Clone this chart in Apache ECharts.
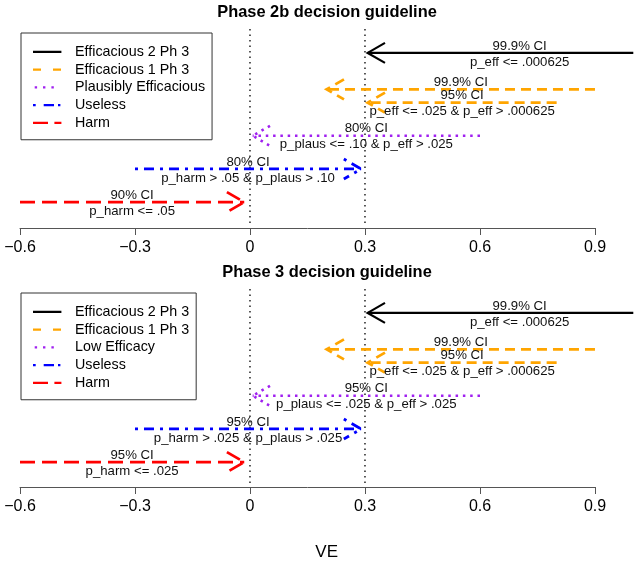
<!DOCTYPE html>
<html>
<head>
<meta charset="utf-8">
<script src="https://cdn.jsdelivr.net/npm/echarts@6/dist/echarts.min.js"></script>
<style>html,body{margin:0;padding:0;background:#fff}#chart{width:640px;height:564px}</style>
</head>
<body>
<div id="chart"></div>
<script>
// ---------------- data ----------------
const panelTitles = ['Phase 2b decision guideline', 'Phase 3 decision guideline'];
const legendNames2b = ['Efficacious 2 Ph 3', 'Efficacious 1 Ph 3', 'Plausibly Efficacious', 'Useless', 'Harm'];
const legendNames3 = ['Efficacious 2 Ph 3', 'Efficacious 1 Ph 3', 'Low Efficacy', 'Useless', 'Harm'];
const xTicks = [-0.6, -0.3, 0, 0.3, 0.6, 0.9];
const xTickLabels = ['\u22120.6', '\u22120.3', '0', '0.3', '0.6', '0.9'];
const xTickStep = 0.3;
const xDataMax = 1.0;
const rowRange = [0.28, 6.22];
const refLines = [0, 0.3];
const xAxisName = 'VE';
// arrows (same geometry in both panels): tail -> head
const arrowCategory = [0, 1, 1, 2, 3, 4];
const arrowFrom = [1.1, 0.9, 0.8, 0.6, -0.3, -0.6];
const arrowTo = [0.307, 0.2, 0.307, 0.007, 0.29, -0.015];
const arrowRow = [5.5, 4.4, 4, 3, 2, 1];
const ciLabels2b = ['99.9% CI', '99.9% CI', '95% CI', '80% CI', '80% CI', '90% CI'];
const ruleLabels2b = ['p_eff <= .000625', '', 'p_eff <= .025 & p_eff > .000625', 'p_plaus <= .10 & p_eff > .025', 'p_harm > .05 & p_plaus > .10', 'p_harm <= .05'];
const ciLabels3 = ['99.9% CI', '99.9% CI', '95% CI', '95% CI', '95% CI', '95% CI'];
const ruleLabels3 = ['p_eff <= .000625', '', 'p_eff <= .025 & p_eff > .000625', 'p_plaus <= .025 & p_eff > .025', 'p_harm > .025 & p_plaus > .025', 'p_harm <= .025'];

// ---------------- styles / layout ----------------
const FONT = '"Liberation Sans", Arial, Helvetica, sans-serif';
const catStyles = [
  { color: '#000000', width: 2.2, dash: null },
  { color: '#FFA500', width: 2.8, dash: [10, 6] },
  { color: '#A020F0', width: 2.6, dash: [2.5, 4.8] },
  { color: '#0000FF', width: 2.8, dash: [3, 6, 10, 6] },
  { color: '#FF0000', width: 2.8, dash: [15, 7] }
];
const ANCH = 'M0,0h.01v.01h-.01z M36.99,2.99h.01v.01h-.01z ';
const legendIcons = [
  'path://' + ANCH + 'M0,0.4h28.4v2.2h-28.4z',
  'path://' + ANCH + 'M0,0.4h8v2.2h-8z M20,0.4h8v2.2h-8z',
  'path://' + ANCH + 'M1.7,0.3h2.4v2.4h-2.4z M10,0.3h2.4v2.4h-2.4z M18.4,0.3h2.4v2.4h-2.4z',
  'path://' + ANCH + 'M0,0.4h2.7v2.2h-2.7z M10.7,0.4h10.3v2.2h-10.3z M25,0.4h2.4v2.2h-2.4z',
  'path://' + ANCH + 'M0,0.4h15v2.2h-15z M21.4,0.4h7v2.2h-7z'
];
const LAY = {
  left: 20, dataWidth: 613.3, axisWidth: 575,
  panelTop: [29, 289], dataHeight: 197, axisHeight: [199, 198],
  legendTop: [33, 293], titleTop: [4.4, 264.4], titleX: 327
};
const HEAD_LEN = 20, HEAD_ANGLE = Math.PI / 6;

const panels = [
  { title: panelTitles[0], names: legendNames2b, ci: ciLabels2b, rule: ruleLabels2b },
  { title: panelTitles[1], names: legendNames3, ci: ciLabels3, rule: ruleLabels3 }
];

function tickLabel(v) {
  let best = 0;
  xTicks.forEach((t, i) => { if (Math.abs(t - v) < Math.abs(xTicks[best] - v)) best = i; });
  return xTickLabels[best];
}

function textEl(x, y, s) {
  return {
    type: 'text', x: x, y: y, silent: true,
    style: { text: s, font: '13.2px ' + FONT, fill: '#111', align: 'center', verticalAlign: 'middle',
             textAlign: 'center', textVerticalAlign: 'middle' }
  };
}

function makeArrowRenderer(ids, ciLabels, ruleLabels, st) {
  return function (params, api) {
    const k = ids[params.dataIndex];
    const row = api.value(2);
    const p0 = api.coord([api.value(0), row]);
    const p1 = api.coord([api.value(1), row]);
    const cs = params.coordSys;
    const x0 = Math.max(cs.x, Math.min(cs.x + cs.width, p0[0]));
    const dir = p1[0] >= p0[0] ? 1 : -1;
    const hx = p1[0] - dir * HEAD_LEN * Math.cos(HEAD_ANGLE);
    const hy = HEAD_LEN * Math.sin(HEAD_ANGLE);
    const ls = { stroke: st.color, lineWidth: st.width, lineDash: st.dash, lineCap: 'butt', fill: null };
    const midX = (p0[0] + p1[0]) / 2;
    const children = [
      { type: 'line', shape: { x1: x0, y1: p0[1], x2: p1[0], y2: p1[1] }, style: ls },
      { type: 'polyline', shape: { points: [[hx, p1[1] - hy], [p1[0], p1[1]], [hx, p1[1] + hy]] }, style: ls }
    ];
    if (ciLabels[k]) children.push(textEl(midX, p1[1] - 7, ciLabels[k]));
    if (ruleLabels[k]) children.push(textEl(midX, p1[1] + 9, ruleLabels[k]));
    return { type: 'group', children: children };
  };
}

function renderRef(params, api) {
  const cs = params.coordSys;
  const x = api.coord([api.value(0), api.value(1)])[0];
  return { type: 'line', silent: true, shape: { x1: x, y1: cs.y, x2: x, y2: cs.y + cs.height },
           style: { stroke: '#000', lineWidth: 1.3, lineDash: [1.5, 4] } };
}

const grid = [], xAxis = [], yAxis = [], series = [], legend = [], title = [];
panels.forEach((p, pi) => {
  const gData = pi * 2, gAxis = pi * 2 + 1;
  grid.push({ left: LAY.left, top: LAY.panelTop[pi], width: LAY.dataWidth, height: LAY.dataHeight, outerBoundsMode: 'none', containLabel: false });
  grid.push({ left: LAY.left, top: LAY.panelTop[pi], width: LAY.axisWidth, height: LAY.axisHeight[pi], outerBoundsMode: 'none', containLabel: false });
  const isLast = pi === panels.length - 1;
  xAxis.push({
    gridIndex: gData, type: 'value', min: xTicks[0], max: xDataMax,
    show: isLast, axisLine: { show: false }, axisTick: { show: false }, axisLabel: { show: false }, splitLine: { show: false },
    name: isLast ? xAxisName : '', nameLocation: 'middle', nameGap: 58,
    nameTextStyle: { fontFamily: FONT, fontSize: 17, color: '#000' }
  });
  xAxis.push({
    gridIndex: gAxis, type: 'value', min: xTicks[0], max: xTicks[xTicks.length - 1], interval: xTickStep,
    axisLine: { show: true, onZero: false, lineStyle: { color: '#555', width: 1 } },
    axisTick: { show: true, length: 7, lineStyle: { color: '#555', width: 1 } },
    axisLabel: { show: true, margin: 12, fontFamily: FONT, fontSize: 16, color: '#000', formatter: tickLabel,
                 showMinLabel: true, showMaxLabel: true, hideOverlap: false },
    splitLine: { show: false }
  });
  yAxis.push({ gridIndex: gData, type: 'value', min: rowRange[0], max: rowRange[1], show: false, splitLine: { show: false } });
  yAxis.push({ gridIndex: gAxis, type: 'value', min: rowRange[0], max: rowRange[1], show: false, splitLine: { show: false } });

  series.push({
    type: 'custom', xAxisIndex: gData, yAxisIndex: gData, silent: true, z: 1,
    data: refLines.map(v => [v, rowRange[0]]), encode: { x: 0, y: 1 }, renderItem: renderRef
  });
  p.names.forEach((name, c) => {
    const ids = [];
    arrowCategory.forEach((cat, k) => { if (cat === c) ids.push(k); });
    series.push({
      type: 'custom', name: name, xAxisIndex: gData, yAxisIndex: gData, silent: true, z: 3,
      itemStyle: { color: catStyles[c].color },
      data: ids.map(k => [arrowFrom[k], arrowTo[k], arrowRow[k]]),
      encode: { x: [0, 1], y: 2 },
      renderItem: makeArrowRenderer(ids, p.ci, p.rule, catStyles[c])
    });
  });
  legend.push({
    orient: 'vertical', left: 21, top: LAY.legendTop[pi], padding: [10, 7, 8, 12], itemGap: 0,
    itemWidth: 37, itemHeight: 3, symbolKeepAspect: false, selectedMode: false,
    borderColor: '#333', borderWidth: 1, borderRadius: 0, backgroundColor: '#fff',
    textStyle: { fontFamily: FONT, fontSize: 14.3, color: '#000', lineHeight: 17.75 },
    data: p.names.map((n, j) => ({ name: n, icon: legendIcons[j] }))
  });
  title.push({
    text: p.title, left: LAY.titleX, top: LAY.titleTop[pi], textAlign: 'center', padding: 0,
    textStyle: { fontFamily: FONT, fontSize: 16.4, fontWeight: 'bold', color: '#000' }
  });
});

const chart = echarts.init(document.getElementById('chart'), null, { renderer: 'canvas' });
chart.setOption({
  animation: false,
  backgroundColor: '#fff',
  title: title, legend: legend, grid: grid, xAxis: xAxis, yAxis: yAxis, series: series
});
</script>
</body>
</html>
